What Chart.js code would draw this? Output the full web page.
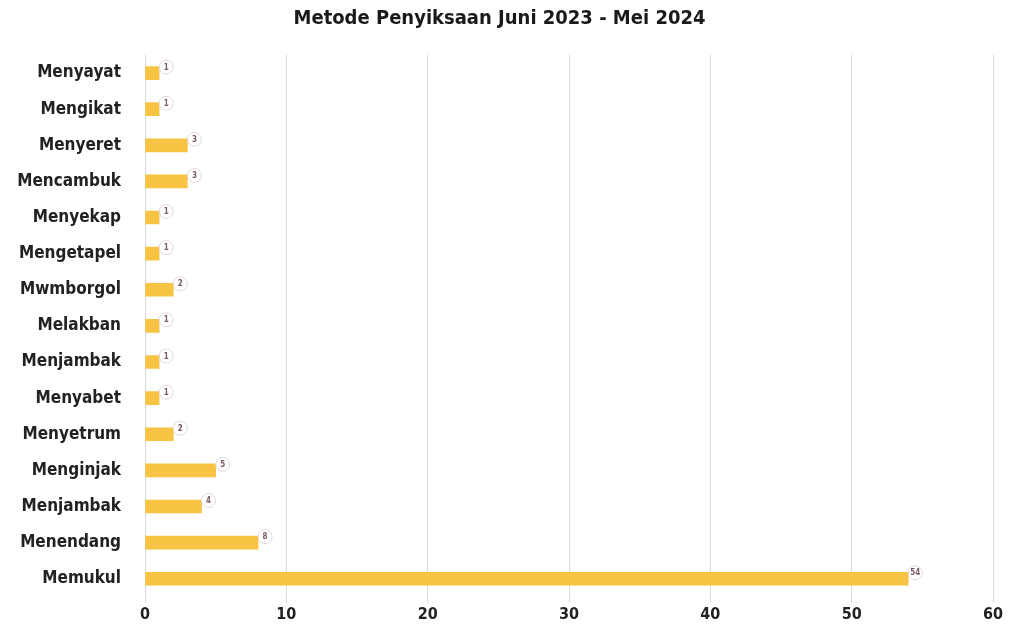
<!DOCTYPE html>
<html>
<head>
<meta charset="utf-8">
<script src="https://cdn.jsdelivr.net/npm/chart.js@4"></script>
<style>
  html, body { margin: 0; padding: 0; background: #fff; }
  #chart { display: block; }
</style>
</head>
<body>
<canvas id="chart" width="1010" height="635"></canvas>
<script>
// data
const methods = [
  "Menyayat", "Mengikat", "Menyeret", "Mencambuk", "Menyekap",
  "Mengetapel", "Mwmborgol", "Melakban", "Menjambak", "Menyabet",
  "Menyetrum", "Menginjak", "Menjambak", "Menendang", "Memukul"
];
const counts = [1, 1, 3, 3, 1, 1, 2, 1, 1, 1, 2, 5, 4, 8, 54];
const xTicks = [0, 10, 20, 30, 40, 50, 60];

const FONT = "'Liberation Sans Narrow', 'DejaVu Sans Condensed', 'Roboto', sans-serif";

// little circled value at the end of each bar
const bubbleLabels = {
  id: "bubbleLabels",
  afterDatasetsDraw(chart) {
    const { ctx } = chart;
    const meta = chart.getDatasetMeta(0);
    ctx.save();
    meta.data.forEach((bar, i) => {
      const cx = bar.x + 7;
      const cy = bar.y - 6;
      ctx.beginPath();
      ctx.arc(cx, cy, 7, 0, Math.PI * 2);
      ctx.fillStyle = "rgba(255,255,255,0.9)";
      ctx.fill();
      ctx.strokeStyle = "#e2d6dc";
      ctx.lineWidth = 1;
      ctx.stroke();
      ctx.fillStyle = "#7a5a60";
      ctx.font = "bold 8px " + FONT;
      ctx.textAlign = "center";
      ctx.textBaseline = "middle";
      ctx.fillText(counts[i], cx, cy + 0.5);
    });
    ctx.restore();
  }
};

new Chart(document.getElementById("chart"), {
  type: "bar",
  data: {
    labels: methods,
    datasets: [{
      data: counts,
      backgroundColor: "#f6c343",
      barThickness: 13,
      borderWidth: 0
    }]
  },
  options: {
    indexAxis: "y",
    responsive: false,
    animation: false,
    layout: { padding: { left: 6, right: 17, top: 0, bottom: 9 } },
    plugins: {
      legend: { display: false },
      tooltip: { enabled: false },
      title: {
        display: true,
        text: "Metode Penyiksaan Juni 2023 - Mei 2024",
        color: "#1a1a1a",
        font: { family: FONT, size: 20, weight: "bold" },
        padding: { top: 7, bottom: 24 }
      }
    },
    scales: {
      x: {
        min: 0,
        max: 60,
        afterBuildTicks(axis) { axis.ticks = xTicks.map(v => ({ value: v })); },
        grid: { color: "#d9d9d9", drawTicks: true, tickLength: 6 },
        border: { display: false },
        ticks: {
          color: "#222",
          padding: 2,
          font: { family: FONT, size: 16, weight: "bold" }
        }
      },
      y: {
        afterFit(axis) { axis.width = 139; },
        grid: { display: false },
        border: { display: false },
        ticks: {
          color: "#222",
          padding: 16,
          font: { family: FONT, size: 17, weight: "bold" }
        }
      }
    }
  },
  plugins: [bubbleLabels]
});
</script>
</body>
</html>
